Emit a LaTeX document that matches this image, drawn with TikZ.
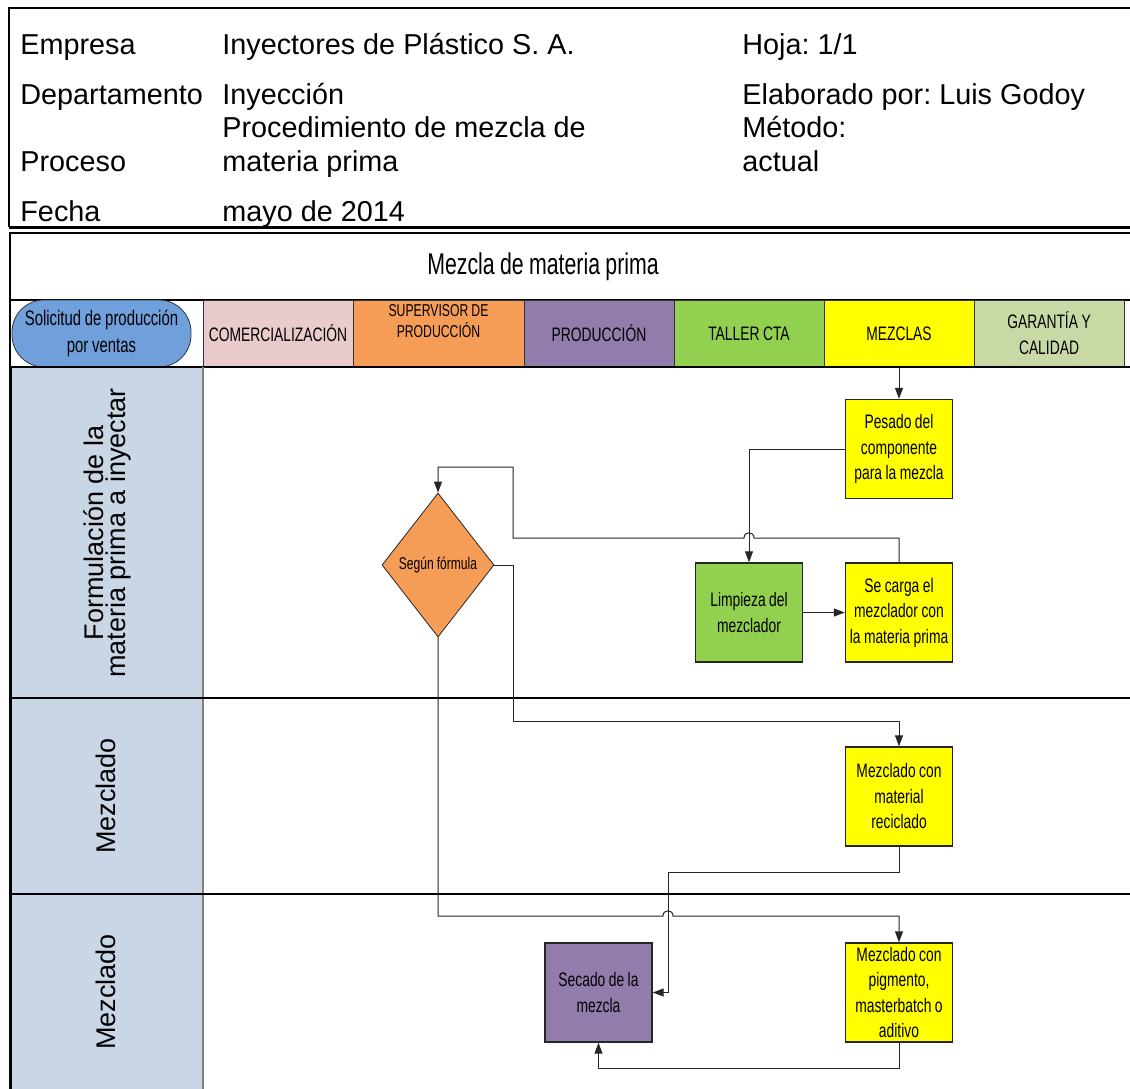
\documentclass[tikz,border=0pt]{standalone}
\usepackage{fontspec}
\setmainfont{Liberation Sans}
\newfontfamily\narrowfont[FakeStretch=0.71, WordSpace=0.9]{Liberation Sans}
\usetikzlibrary{shapes.geometric, arrows.meta}
\frenchspacing

\definecolor{solicitud}{RGB}{111,160,220}
\definecolor{comercial}{RGB}{232,203,202}
\definecolor{supervisor}{RGB}{245,157,86}
\definecolor{produccion}{RGB}{145,124,172}
\definecolor{taller}{RGB}{146,208,80}
\definecolor{mezclas}{RGB}{255,255,0}
\definecolor{garantia}{RGB}{200,217,166}
\definecolor{columna}{RGB}{200,214,229}

\begin{document}
\begin{tikzpicture}[x=0.5pt, y=-0.5pt,
  cab/.style={anchor=base west, inner sep=0pt, font=\fontsize{14.4}{17}\selectfont},
  celda/.style={draw=black!80, line width=0.5pt, minimum width=75pt, minimum height=33.5pt,
    inner sep=0pt, align=center, font=\narrowfont\fontsize{9.75}{13}\selectfont},
  tarea/.style={draw=black!85, line width=0.7pt, minimum width=53.5pt, minimum height=49.5pt,
    inner sep=0pt, text width=53pt, align=flush center, font=\narrowfont\fontsize{9.75}{12.75}\selectfont},
  carril/.style={rotate=90, align=center, font=\fontsize{13.5}{11.2}\selectfont},
  flecha/.style={-{Triangle[length=5.5pt,width=4pt]}, line width=0.5pt, draw=black!85}]

  \useasboundingbox (0,0) rectangle (1130,1088);
  \clip (0,0) rectangle (1130,1088);

  % Cabecera del documento
  \draw[line width=1pt] (9,227) -- (9,8) -- (1140,8);
  \draw[line width=1.5pt] (9,227) -- (1140,227);
  \node[cab] (empresa) at (20,54) {Empresa};
  \node[cab] (nomempresa) at (222,54) {Inyectores de Plástico S. A.};
  \node[cab] (hoja) at (742,54) {Hoja: 1/1};
  \node[cab] (depto) at (20,104) {Departamento};
  \node[cab] (nomdepto) at (222,104) {Inyección};
  \node[cab] (elaborado) at (742,104) {Elaborado por: Luis Godoy};
  \node[cab] (procedim) at (222,137) {Procedimiento de mezcla de};
  \node[cab] (metodo) at (742,137) {Método:};
  \node[cab] (proceso) at (20,171) {Proceso};
  \node[cab] (materia) at (222,171) {materia prima};
  \node[cab] (actual) at (742,171) {actual};
  \node[cab] (fecha) at (20,221) {Fecha};
  \node[cab] (mayo) at (222,221) {mayo de 2014};

  % Marco y titulo del diagrama
  \draw[line width=0.6pt] (10,1095) -- (10,233) -- (1140,233);
  \node[font=\narrowfont\fontsize{15}{17}\selectfont] (titulo) at (543,267) {Mezcla de materia prima};
  \draw[line width=0.6pt] (10,300) -- (1140,300);

  % Fila de responsables
  \node[draw=black!80, fill=solicitud, rounded corners=16pt, minimum width=89.5pt, minimum height=33.5pt,
    inner sep=0pt, align=center, font=\narrowfont\fontsize{10.5}{13.5}\selectfont]
    (solicitud) at (101.5,333.5) {Solicitud de producción\\por ventas};
  \node[celda, fill=comercial] (comer) at (278,333.5) {COMERCIALIZACIÓN};
  \node[celda, fill=supervisor, minimum width=85.5pt] (super) at (438.5,333.5) {};
  \node[align=center, font=\narrowfont\fontsize{8.6}{10.5}\selectfont] (supertxt) at (438.5,321.5)
    {SUPERVISOR DE\\PRODUCCIÓN};
  \node[celda, fill=produccion] (prod) at (599,333.5) {PRODUCCIÓN};
  \node[celda, fill=taller] (taller) at (749,333.5) {TALLER CTA};
  \node[celda, fill=mezclas] (mezclas) at (899,333.5) {MEZCLAS};
  \node[celda, fill=garantia] (garantia) at (1049,333.5) {GARANTÍA Y\\CALIDAD};
  \draw[line width=0.6pt] (10,367) -- (1140,367);

  % Carriles
  \draw[fill=columna, line width=0.5pt] (11,367) rectangle (203,698);
  \draw[fill=columna, line width=0.5pt] (11,698) rectangle (203,894);
  \draw[fill=columna, line width=0.5pt] (11,894) rectangle (203,1095);
  \draw[gray, line width=1pt] (203,367) -- (203,1095);
  \draw[line width=1pt] (11,698) -- (1140,698);
  \draw[line width=1pt] (11,894) -- (1140,894);
  \node[carril] (formulacion) at (107.5,533) {Formulación de la\\materia prima a inyectar};
  \node[carril] (mezclado1) at (106,796) {Mezclado};
  \node[carril] (mezclado2) at (106,992) {Mezclado};

  % Actividades
  \node[tarea, fill=mezclas] (pesado) at (899,449) {Pesado del\\componente\\para la mezcla};
  \node[diamond, draw=black!85, fill=supervisor, minimum width=56pt, minimum height=72pt, inner sep=0pt,
    font=\narrowfont\fontsize{8.5}{10}\selectfont] (decision) at (438,565) {Según fórmula};
  \node[tarea, fill=taller] (limpieza) at (749,612.5) {Limpieza del\\mezclador};
  \node[tarea, fill=mezclas] (secarga) at (899,612.5) {Se carga el\\mezclador con\\la materia prima};
  \node[tarea, fill=mezclas] (reciclado) at (899,796.5) {Mezclado con\\material\\reciclado};
  \node[tarea, fill=produccion] (secado) at (598.5,992.5) {Secado de la\\mezcla};
  \node[tarea, fill=mezclas] (pigmento) at (899,992.5) {Mezclado con\\pigmento,\\masterbatch o\\aditivo};

  % Flujo
  \draw[flecha] (mezclas.south) -- (pesado.north);
  \draw[flecha] (pesado.west) -| (limpieza.north);
  \draw[flecha] (limpieza.east) -- (secarga.west);
  \draw[flecha] (secarga.north) |- (754,538) .. controls (754,531) and (744,531) .. (744,538)
    -- (513,538) -- (513,467) -| (decision.north);
  \draw[flecha] (decision.east) -- (513,565) -- (513,721) -| (reciclado.north);
  \draw[flecha] (decision.south) |- (663,916) .. controls (663,909) and (673,909) .. (673,916)
    -| (pigmento.north);
  \draw[flecha] (reciclado.south) -- (899,872) -| (668,992.5) -- (secado.east);
  \draw[flecha] (pigmento.south) -- (899,1068) -| (secado.south);

\end{tikzpicture}
\end{document}
